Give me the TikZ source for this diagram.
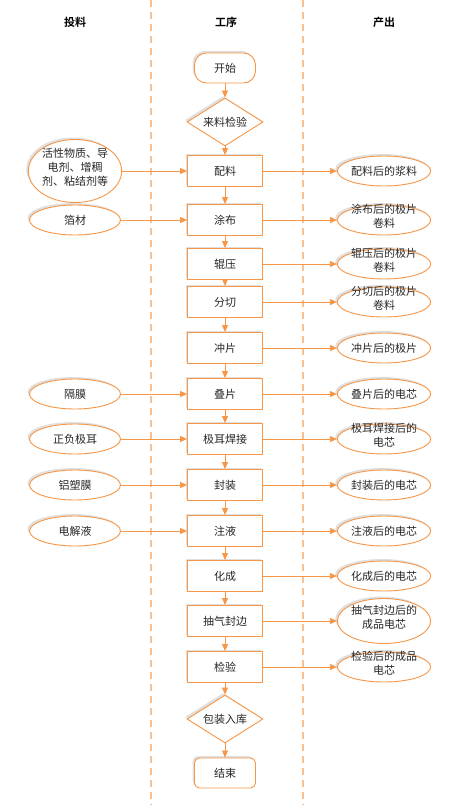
\documentclass[tikz,border=0pt]{standalone}
\usepackage{fontspec}
\newfontfamily\cjk[BoldFont={Noto Sans CJK SC Bold}]{Noto Sans CJK SC}
\usepackage{xcolor}
\usetikzlibrary{shapes.geometric, arrows.meta, shadows, positioning}
\definecolor{lineorange}{HTML}{F79646}
\definecolor{laneorange}{HTML}{FAC08F}
\newcommand{\mlines}[1]{\smash{\begin{tabular}{@{}c@{}}#1\end{tabular}}}

\begin{document}
\begin{tikzpicture}[x=1pt, y=-1pt,
    every node/.style={font=\cjk\fontsize{11}{14}\selectfont, text=black!85},
    shade/.style={drop shadow={shadow xshift=-2pt, shadow yshift=2pt, fill=black, opacity=.12}},
    procbox/.style={rectangle, draw=lineorange, line width=0.9pt, fill=white, shade, minimum width=75pt, minimum height=31pt, inner sep=0pt},
    termbox/.style={rectangle, draw=lineorange, line width=0.9pt, fill=white, shade, minimum width=61pt, minimum height=30pt, inner sep=0pt},
    decide/.style={diamond, aspect=1.6, draw=lineorange, line width=0.9pt, fill=white, shade, minimum width=76pt, minimum height=48pt, inner sep=1pt},
    inbox/.style={ellipse, draw=lineorange, line width=0.9pt, fill=white, shade, minimum width=91pt, minimum height=30pt, inner sep=0pt},
    lane/.style={draw=laneorange, line width=1.4pt, dash pattern=on 7pt off 5pt},
    flow/.style={draw=lineorange, line width=0.8pt, -{Triangle[length=7pt, width=6pt]}},
    head/.style={font=\cjk\bfseries\fontsize{11}{14}\selectfont, text=black}]
\useasboundingbox (0,0) rectangle (463,811);

% lanes
\coordinate (l1) at (151,0);
\coordinate (l1e) at (151,805);
\coordinate (l2) at (303,0);
\coordinate (l2e) at (303,805);
\draw[lane] (l1) -- (l1e);
\draw[lane] (l2) -- (l2e);

\node[head] (hin) at (75,22) {投料};
\node[head] (hproc) at (226,22) {工序};
\node[head] (hout) at (384,22) {产出};

% process column
\node[termbox, rounded corners=12pt] (start) at (225,68) {开始};
\node[decide] (check) at (225,122) {来料检验};
\node[procbox] (peiliao) at (225,171) {配料};
\node[procbox] (tubu) at (225,220) {涂布};
\node[procbox] (gunya) at (225,264) {辊压};
\node[procbox] (fenqie) at (225,302) {分切};
\node[procbox] (chongpian) at (225,348) {冲片};
\node[procbox] (diepian) at (225,394) {叠片};
\node[procbox] (hanjie) at (225,439) {极耳焊接};
\node[procbox] (fengzhuang) at (225,485) {封装};
\node[procbox] (zhuye) at (225,531) {注液};
\node[procbox] (huacheng) at (225,576) {化成};
\node[procbox] (chouqi) at (225,621) {抽气封边};
\node[procbox] (jianyan) at (225,667) {检验};
\node[decide] (baozhuang) at (225,719) {包装入库};
\node[termbox, rounded corners=5pt] (finish) at (225,773) {结束};

\draw
(start) edge[flow] (check)
(check) edge[flow] (peiliao)
(peiliao) edge[flow] (tubu)
(tubu) edge[flow] (gunya)
(gunya) edge[flow] (fenqie)
(fenqie) edge[flow] (chongpian)
(chongpian) edge[flow] (diepian)
(diepian) edge[flow] (hanjie)
(hanjie) edge[flow] (fengzhuang)
(fengzhuang) edge[flow] (zhuye)
(zhuye) edge[flow] (huacheng)
(huacheng) edge[flow] (chouqi)
(chouqi) edge[flow] (jianyan)
(jianyan) edge[flow] (baozhuang)
(baozhuang) edge[flow] (finish);

% inputs
\node[inbox, minimum height=63pt] (m1) at (75,171) {\mlines{活性物质、导\\电剂、增稠\\剂、粘结剂等}};
\node[inbox] (m2) at (75,220) {箔材};
\node[inbox] (m3) at (75,394) {隔膜};
\node[inbox] (m4) at (75,439) {正负极耳};
\node[inbox] (m5) at (75,485) {铝塑膜};
\node[inbox] (m6) at (75,531) {电解液};

\draw
(m1) edge[flow] (peiliao)
(m2) edge[flow] (tubu)
(m3) edge[flow] (diepian)
(m4) edge[flow] (hanjie)
(m5) edge[flow] (fengzhuang)
(m6) edge[flow] (zhuye);

% outputs
\node[inbox] (p1) at (384,171) {配料后的浆料};
\node[inbox] (p2) at (384,220) {\mlines{涂布后的极片\\卷料}};
\node[inbox] (p3) at (384,264) {\mlines{辊压后的极片\\卷料}};
\node[inbox] (p4) at (384,302) {\mlines{分切后的极片\\卷料}};
\node[inbox] (p5) at (384,348) {冲片后的极片};
\node[inbox] (p6) at (384,394) {叠片后的电芯};
\node[inbox] (p7) at (384,439) {\mlines{极耳焊接后的\\电芯}};
\node[inbox] (p8) at (384,485) {封装后的电芯};
\node[inbox] (p9) at (384,531) {注液后的电芯};
\node[inbox] (p10) at (384,576) {化成后的电芯};
\node[inbox, minimum height=45pt] (p11) at (384,621) {\mlines{抽气封边后的\\成品电芯}};
\node[inbox] (p12) at (384,667) {\mlines{检验后的成品\\电芯}};

\draw
(peiliao) edge[flow] (p1)
(tubu) edge[flow] (p2)
(gunya) edge[flow] (p3)
(fenqie) edge[flow] (p4)
(chongpian) edge[flow] (p5)
(diepian) edge[flow] (p6)
(hanjie) edge[flow] (p7)
(fengzhuang) edge[flow] (p8)
(zhuye) edge[flow] (p9)
(huacheng) edge[flow] (p10)
(chouqi) edge[flow] (p11)
(jianyan) edge[flow] (p12);
\end{tikzpicture}
\end{document}
